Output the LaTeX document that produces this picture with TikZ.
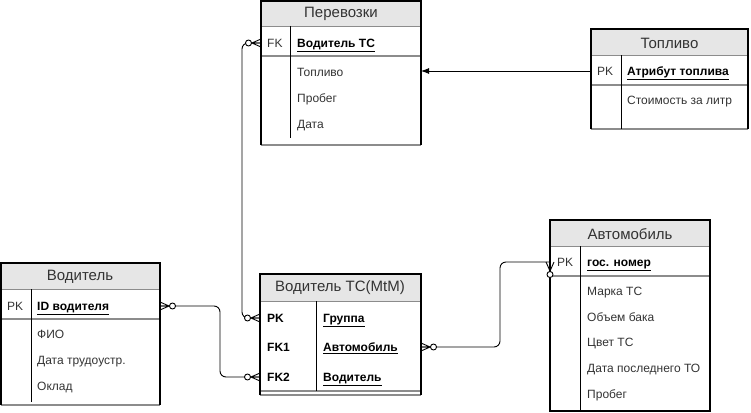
\documentclass[tikz,border=0pt]{standalone}
\usepackage{fontspec}
\setmainfont{Liberation Sans}
\usetikzlibrary{arrows.meta}
\definecolor{hdrgray}{HTML}{E6E6E6}
\definecolor{botgray}{HTML}{8C8C8C}
\definecolor{txtgray}{HTML}{333333}
\begin{document}
\begin{tikzpicture}[x=1pt,y=-1pt,
  title/.style={font=\fontsize{15}{17}\selectfont, text=txtgray, inner sep=0},
  cell/.style={font=\fontsize{12}{14}\selectfont, anchor=base west, inner sep=0, text=txtgray, yshift=-4.3pt},
  key/.style={cell, font=\fontsize{12}{14}\selectfont\bfseries, text=black},
  frame/.style={line width=1.1pt, draw=black},
  divider/.style={line width=1pt, draw=black},
  sepline/.style={line width=1.6pt, draw=botgray},
  hdrline/.style={line width=0.6pt, draw=botgray},
  conn/.style={line width=0.9pt, rounded corners=6pt},
  zeromany/.pic={
    \draw[line width=0.9pt] (0,0) -- (-9,0) (0,-4) -- (-9,0) -- (0,4);
    \draw[line width=0.9pt, fill=white] (-12.5,0) circle (3);
  }
]
\useasboundingbox (0,0) rectangle (751,412);

% ---------- Перевозки ----------
\fill[hdrgray] (261,1) rectangle (421,26);
\draw[hdrline] (261,26) -- (421,26);
\draw[sepline] (261,56) -- (421,56);
\draw[sepline] (261,145) -- (421,145);
\draw[frame] (261,145) -- (261,1) -- (421,1) -- (421,145);
\draw[divider] (290,26) -- (290,138);
\node[title] (perT) at (341,14) {Перевозки};
\node[cell] (perFKk) at (267,43) {FK};
\node[key] (perFKv) at (297,43) {\underline{Водитель ТС}};
\node[cell] (perA1) at (297,72) {Топливо};
\node[cell] (perA2) at (297,98) {Пробег};
\node[cell] (perA3) at (297,124) {Дата};
\coordinate (perL) at (261,43);
\coordinate (perR) at (421,71);

% ---------- Топливо ----------
\fill[hdrgray] (591,29) rectangle (748,55);
\draw[hdrline] (591,55) -- (748,55);
\draw[sepline] (591,85) -- (748,85);
\draw[sepline] (591,129) -- (748,129);
\draw[frame] (591,129) -- (591,29) -- (748,29) -- (748,129);
\draw[divider] (621,55) -- (621,129);
\node[title] (topT) at (669.5,43) {Топливо};
\node[cell] (topPKk) at (597,71) {PK};
\node[key] (topPKv) at (627,71) {\underline{Атрибут топлива}};
\node[cell] (topA1) at (627,100) {Стоимость за литр};
\coordinate (topL) at (591,71);

% ---------- Водитель ----------
\fill[hdrgray] (1,263) rectangle (160,289);
\draw[hdrline] (1,289) -- (160,289);
\draw[sepline] (1,319) -- (160,319);
\draw[sepline] (1,405) -- (160,405);
\draw[frame] (1,405) -- (1,263) -- (160,263) -- (160,405);
\draw[divider] (31,289) -- (31,402);
\node[title] (vodT) at (80,277) {Водитель};
\node[cell] (vodPKk) at (7,306) {PK};
\node[key] (vodPKv) at (37,306) {\underline{ID водителя}};
\node[cell] (vodA1) at (37,334) {ФИО};
\node[cell] (vodA2) at (37,360) {Дата трудоустр.};
\node[cell] (vodA3) at (37,386) {Оклад};
\coordinate (vodR) at (160,306);

% ---------- Водитель ТС(MtM) ----------
\fill[hdrgray] (260,274) rectangle (421,301);
\draw[hdrline] (260,301) -- (421,301);
\draw[sepline] (260,391) -- (421,391);
\draw[sepline] (260,395) -- (421,395);
\draw[frame] (260,395) -- (260,274) -- (421,274) -- (421,395);
\draw[divider] (316,301) -- (316,391);
\node[title] (mtmT) at (340,288) {Водитель ТС(MtM)};
\node[key] (mtmPKk) at (267,318) {PK};
\node[key] (mtmFK1k) at (267,347) {FK1};
\node[key] (mtmFK2k) at (267,377) {FK2};
\node[key] (mtmPKv) at (323,318) {\underline{Группа}};
\node[key] (mtmFK1v) at (323,347) {\underline{Автомобиль}};
\node[key] (mtmFK2v) at (323,377) {\underline{Водитель}};
\coordinate (mtmPK) at (260,318);
\coordinate (mtmFK2) at (260,377);
\coordinate (mtmFK1) at (421,347);

% ---------- Автомобиль ----------
\fill[hdrgray] (550,220) rectangle (710,246);
\draw[hdrline] (550,246) -- (710,246);
\draw[sepline] (550,276) -- (710,276);
\draw[frame] (550,411) -- (550,220) -- (710,220) -- (710,411) -- cycle;
\draw[divider] (580,246) -- (580,411);
\node[title] (avtT) at (630,234) {Автомобиль};
\node[cell] (avtPKk) at (557,262) {PK};
\node[key] (avtPKv) at (587,262) {\underline{гос. номер}};
\node[cell] (avtA1) at (587,291) {Марка ТС};
\node[cell] (avtA2) at (587,317) {Объем бака};
\node[cell] (avtA3) at (587,342) {Цвет ТС};
\node[cell] (avtA4) at (587,368) {Дата последнего ТО};
\node[cell] (avtA5) at (587,394) {Пробег};
\coordinate (avtL) at (550,262);

% ---------- connectors ----------
\draw[line width=0.9pt, -{Latex[length=8pt,width=6pt]}] (topL) -- (perR);
\draw[conn] (perL) -- (242,43) -- (242,318) -- (mtmPK);
\draw[conn] (vodR) -- (220,306) -- (220,377) -- (mtmFK2);
\draw[conn] (mtmFK1) -- (500,347) -- (500,262) -- (avtL);
\pic at (perL) {zeromany};
\pic at (mtmPK) {zeromany};
\pic at (mtmFK2) {zeromany};
\pic[rotate=180] at (vodR) {zeromany};
\pic[rotate=180] at (mtmFK1) {zeromany};
\pic[rotate=90] at (avtL) {zeromany};
\end{tikzpicture}
\end{document}
